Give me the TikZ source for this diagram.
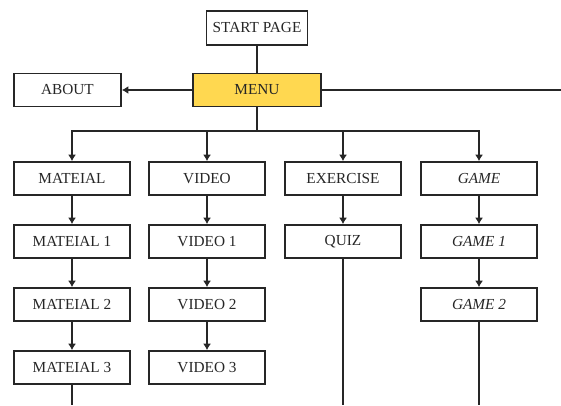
\documentclass[tikz,border=0pt]{standalone}
\usepackage{fontspec}
\setmainfont{Liberation Serif}
\usetikzlibrary{arrows.meta}
\definecolor{menuyellow}{RGB}{255,216,80}
\begin{document}
\begin{tikzpicture}[x=1pt,y=-1pt,
  box/.style={draw=black!85,line width=1.6pt,minimum width=116pt,minimum height=33pt,inner sep=0pt,text=black!85,font=\fontsize{15.3}{16}\selectfont},
  link/.style={draw=black!85,line width=1.5pt},
  arr/.style={link,-{Latex[length=6.5pt,width=8pt]}}]
\useasboundingbox (0,0) rectangle (561,405);
% top level
\node[box,minimum width=101pt,minimum height=34pt] (start) at (257,28) {START PAGE};
\node[box,fill=menuyellow,minimum width=128pt] (menu) at (257,90) {MENU};
\node[box,minimum width=107pt] (about) at (67.5,90) {ABOUT};
% columns
\node[box] (m0) at (72,178.5) {MATEIAL};
\node[box] (m1) at (72,241.5) {MATEIAL 1};
\node[box] (m2) at (72,304.5) {MATEIAL 2};
\node[box] (m3) at (72,367.5) {MATEIAL 3};
\node[box] (v0) at (207,178.5) {VIDEO};
\node[box] (v1) at (207,241.5) {VIDEO 1};
\node[box] (v2) at (207,304.5) {VIDEO 2};
\node[box] (v3) at (207,367.5) {VIDEO 3};
\node[box] (e0) at (343,178.5) {EXERCISE};
\node[box] (q1) at (343,241.5) {QUIZ};
\node[box] (g0) at (479,178.5) {\itshape GAME};
\node[box] (g1) at (479,241.5) {\itshape GAME 1};
\node[box] (g2) at (479,304.5) {\itshape GAME 2};
% free ends
\coordinate (bus) at (257,131);
\coordinate (right) at (561,90);
\coordinate (mEnd) at (72,405);
\coordinate (qEnd) at (343,405);
\coordinate (gEnd) at (479,405);
% connectors
\draw[link] (start) -- (menu);
\draw[arr] (menu) -- (about);
\draw[link] (menu) -- (right);
\draw[link] (menu) -- (bus);
\draw[link,line cap=rect] (m0.north |- bus) -- (g0.north |- bus);
\foreach \n in {m0,v0,e0,g0} \draw[arr] (\n.north |- bus) -- (\n);
\draw[arr] (m0) -- (m1);
\draw[arr] (m1) -- (m2);
\draw[arr] (m2) -- (m3);
\draw[arr] (v0) -- (v1);
\draw[arr] (v1) -- (v2);
\draw[arr] (v2) -- (v3);
\draw[arr] (e0) -- (q1);
\draw[arr] (g0) -- (g1);
\draw[arr] (g1) -- (g2);
\draw[link] (m3) -- (mEnd);
\draw[link] (q1) -- (qEnd);
\draw[link] (g2) -- (gEnd);
\end{tikzpicture}
\end{document}
